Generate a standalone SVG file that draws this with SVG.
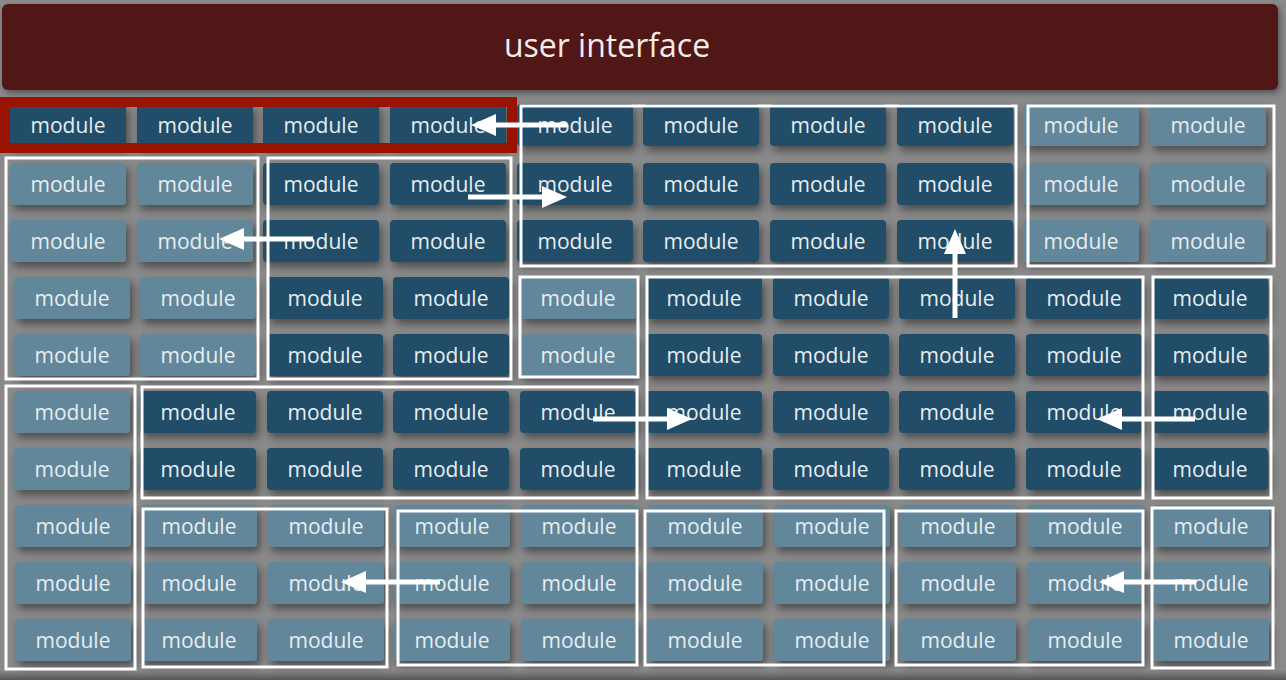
<svg xmlns="http://www.w3.org/2000/svg" width="1286" height="680" viewBox="0 0 1286 680">
<defs>
<style>
.d{fill:#204d69;filter:url(#sh)}
.l{fill:#62879b;filter:url(#sh)}
text{font-family:"Open Sans","Lato",sans-serif;font-size:21px;fill:#e6eef2;text-anchor:middle}
.box{fill:none;stroke:#ffffff;stroke-width:3}
.arr{stroke:#ffffff;stroke-width:5;fill:none;marker-end:url(#ah)}
</style>
<filter id="sh" x="-20%" y="-40%" width="150%" height="200%">
<feDropShadow dx="3" dy="5" stdDeviation="4" flood-color="#000" flood-opacity="0.45"/>
</filter>
<filter id="bsh" x="-5%" y="-20%" width="110%" height="160%">
<feDropShadow dx="2" dy="3" stdDeviation="3" flood-color="#000" flood-opacity="0.4"/>
</filter>
<marker id="ah" markerUnits="userSpaceOnUse" markerWidth="26" markerHeight="24" viewBox="0 -12 26 24" refX="0" refY="0" orient="auto">
<path d="M0,-11 L25,0 L0,11 z" fill="#ffffff"/>
</marker>
<linearGradient id="bot" x1="0" y1="0" x2="0" y2="1">
<stop offset="0" stop-color="#8a8a8a"/>
<stop offset="1" stop-color="#555555"/>
</linearGradient>
</defs>
<rect x="0" y="0" width="1286" height="680" fill="#8a8a8a"/>
<rect x="0" y="670" width="1286" height="10" fill="url(#bot)"/>
<g id="ui">
<rect x="2" y="4" width="1276" height="86" rx="6" fill="#511512" filter="url(#bsh)"/>
<text x="607" y="57" style="font-size:32px;fill:#f3ecea">user interface</text>
</g>
<g id="modules">
<g id="m1_1"><rect class="d" x="10" y="104" width="116" height="42" rx="4"/><text x="68" y="133">module</text></g>
<g id="m1_2"><rect class="d" x="137" y="104" width="116" height="42" rx="4"/><text x="195" y="133">module</text></g>
<g id="m1_3"><rect class="d" x="263" y="104" width="116" height="42" rx="4"/><text x="321" y="133">module</text></g>
<g id="m1_4"><rect class="d" x="390" y="104" width="116" height="42" rx="4"/><text x="448" y="133">module</text></g>
<g id="m1_5"><rect class="d" x="517" y="104" width="116" height="42" rx="4"/><text x="575" y="133">module</text></g>
<g id="m1_6"><rect class="d" x="643" y="104" width="116" height="42" rx="4"/><text x="701" y="133">module</text></g>
<g id="m1_7"><rect class="d" x="770" y="104" width="116" height="42" rx="4"/><text x="828" y="133">module</text></g>
<g id="m1_8"><rect class="d" x="897" y="104" width="116" height="42" rx="4"/><text x="955" y="133">module</text></g>
<g id="m1_9"><rect class="l" x="1023" y="104" width="116" height="42" rx="4"/><text x="1081" y="133">module</text></g>
<g id="m1_10"><rect class="l" x="1150" y="104" width="116" height="42" rx="4"/><text x="1208" y="133">module</text></g>

<g id="m2_1"><rect class="l" x="10" y="163" width="116" height="42" rx="4"/><text x="68" y="192">module</text></g>
<g id="m2_2"><rect class="l" x="137" y="163" width="116" height="42" rx="4"/><text x="195" y="192">module</text></g>
<g id="m2_3"><rect class="d" x="263" y="163" width="116" height="42" rx="4"/><text x="321" y="192">module</text></g>
<g id="m2_4"><rect class="d" x="390" y="163" width="116" height="42" rx="4"/><text x="448" y="192">module</text></g>
<g id="m2_5"><rect class="d" x="517" y="163" width="116" height="42" rx="4"/><text x="575" y="192">module</text></g>
<g id="m2_6"><rect class="d" x="643" y="163" width="116" height="42" rx="4"/><text x="701" y="192">module</text></g>
<g id="m2_7"><rect class="d" x="770" y="163" width="116" height="42" rx="4"/><text x="828" y="192">module</text></g>
<g id="m2_8"><rect class="d" x="897" y="163" width="116" height="42" rx="4"/><text x="955" y="192">module</text></g>
<g id="m2_9"><rect class="l" x="1023" y="163" width="116" height="42" rx="4"/><text x="1081" y="192">module</text></g>
<g id="m2_10"><rect class="l" x="1150" y="163" width="116" height="42" rx="4"/><text x="1208" y="192">module</text></g>

<g id="m3_1"><rect class="l" x="10" y="220" width="116" height="42" rx="4"/><text x="68" y="249">module</text></g>
<g id="m3_2"><rect class="l" x="137" y="220" width="116" height="42" rx="4"/><text x="195" y="249">module</text></g>
<g id="m3_3"><rect class="d" x="263" y="220" width="116" height="42" rx="4"/><text x="321" y="249">module</text></g>
<g id="m3_4"><rect class="d" x="390" y="220" width="116" height="42" rx="4"/><text x="448" y="249">module</text></g>
<g id="m3_5"><rect class="d" x="517" y="220" width="116" height="42" rx="4"/><text x="575" y="249">module</text></g>
<g id="m3_6"><rect class="d" x="643" y="220" width="116" height="42" rx="4"/><text x="701" y="249">module</text></g>
<g id="m3_7"><rect class="d" x="770" y="220" width="116" height="42" rx="4"/><text x="828" y="249">module</text></g>
<g id="m3_8"><rect class="d" x="897" y="220" width="116" height="42" rx="4"/><text x="955" y="249">module</text></g>
<g id="m3_9"><rect class="l" x="1023" y="220" width="116" height="42" rx="4"/><text x="1081" y="249">module</text></g>
<g id="m3_10"><rect class="l" x="1150" y="220" width="116" height="42" rx="4"/><text x="1208" y="249">module</text></g>

<g id="m4_1"><rect class="l" x="14" y="277" width="116" height="42" rx="4"/><text x="72" y="306">module</text></g>
<g id="m4_2"><rect class="l" x="140" y="277" width="116" height="42" rx="4"/><text x="198" y="306">module</text></g>
<g id="m4_3"><rect class="d" x="267" y="277" width="116" height="42" rx="4"/><text x="325" y="306">module</text></g>
<g id="m4_4"><rect class="d" x="393" y="277" width="116" height="42" rx="4"/><text x="451" y="306">module</text></g>
<g id="m4_5"><rect class="l" x="520" y="277" width="116" height="42" rx="4"/><text x="578" y="306">module</text></g>
<g id="m4_6"><rect class="d" x="646" y="277" width="116" height="42" rx="4"/><text x="704" y="306">module</text></g>
<g id="m4_7"><rect class="d" x="773" y="277" width="116" height="42" rx="4"/><text x="831" y="306">module</text></g>
<g id="m4_8"><rect class="d" x="899" y="277" width="116" height="42" rx="4"/><text x="957" y="306">module</text></g>
<g id="m4_9"><rect class="d" x="1026" y="277" width="116" height="42" rx="4"/><text x="1084" y="306">module</text></g>
<g id="m4_10"><rect class="d" x="1152" y="277" width="116" height="42" rx="4"/><text x="1210" y="306">module</text></g>

<g id="m5_1"><rect class="l" x="14" y="334" width="116" height="42" rx="4"/><text x="72" y="363">module</text></g>
<g id="m5_2"><rect class="l" x="140" y="334" width="116" height="42" rx="4"/><text x="198" y="363">module</text></g>
<g id="m5_3"><rect class="d" x="267" y="334" width="116" height="42" rx="4"/><text x="325" y="363">module</text></g>
<g id="m5_4"><rect class="d" x="393" y="334" width="116" height="42" rx="4"/><text x="451" y="363">module</text></g>
<g id="m5_5"><rect class="l" x="520" y="334" width="116" height="42" rx="4"/><text x="578" y="363">module</text></g>
<g id="m5_6"><rect class="d" x="646" y="334" width="116" height="42" rx="4"/><text x="704" y="363">module</text></g>
<g id="m5_7"><rect class="d" x="773" y="334" width="116" height="42" rx="4"/><text x="831" y="363">module</text></g>
<g id="m5_8"><rect class="d" x="899" y="334" width="116" height="42" rx="4"/><text x="957" y="363">module</text></g>
<g id="m5_9"><rect class="d" x="1026" y="334" width="116" height="42" rx="4"/><text x="1084" y="363">module</text></g>
<g id="m5_10"><rect class="d" x="1152" y="334" width="116" height="42" rx="4"/><text x="1210" y="363">module</text></g>

<g id="m6_1"><rect class="l" x="14" y="391" width="116" height="42" rx="4"/><text x="72" y="420">module</text></g>
<g id="m6_2"><rect class="d" x="140" y="391" width="116" height="42" rx="4"/><text x="198" y="420">module</text></g>
<g id="m6_3"><rect class="d" x="267" y="391" width="116" height="42" rx="4"/><text x="325" y="420">module</text></g>
<g id="m6_4"><rect class="d" x="393" y="391" width="116" height="42" rx="4"/><text x="451" y="420">module</text></g>
<g id="m6_5"><rect class="d" x="520" y="391" width="116" height="42" rx="4"/><text x="578" y="420">module</text></g>
<g id="m6_6"><rect class="d" x="646" y="391" width="116" height="42" rx="4"/><text x="704" y="420">module</text></g>
<g id="m6_7"><rect class="d" x="773" y="391" width="116" height="42" rx="4"/><text x="831" y="420">module</text></g>
<g id="m6_8"><rect class="d" x="899" y="391" width="116" height="42" rx="4"/><text x="957" y="420">module</text></g>
<g id="m6_9"><rect class="d" x="1026" y="391" width="116" height="42" rx="4"/><text x="1084" y="420">module</text></g>
<g id="m6_10"><rect class="d" x="1152" y="391" width="116" height="42" rx="4"/><text x="1210" y="420">module</text></g>

<g id="m7_1"><rect class="l" x="14" y="448" width="116" height="42" rx="4"/><text x="72" y="477">module</text></g>
<g id="m7_2"><rect class="d" x="140" y="448" width="116" height="42" rx="4"/><text x="198" y="477">module</text></g>
<g id="m7_3"><rect class="d" x="267" y="448" width="116" height="42" rx="4"/><text x="325" y="477">module</text></g>
<g id="m7_4"><rect class="d" x="393" y="448" width="116" height="42" rx="4"/><text x="451" y="477">module</text></g>
<g id="m7_5"><rect class="d" x="520" y="448" width="116" height="42" rx="4"/><text x="578" y="477">module</text></g>
<g id="m7_6"><rect class="d" x="646" y="448" width="116" height="42" rx="4"/><text x="704" y="477">module</text></g>
<g id="m7_7"><rect class="d" x="773" y="448" width="116" height="42" rx="4"/><text x="831" y="477">module</text></g>
<g id="m7_8"><rect class="d" x="899" y="448" width="116" height="42" rx="4"/><text x="957" y="477">module</text></g>
<g id="m7_9"><rect class="d" x="1026" y="448" width="116" height="42" rx="4"/><text x="1084" y="477">module</text></g>
<g id="m7_10"><rect class="d" x="1152" y="448" width="116" height="42" rx="4"/><text x="1210" y="477">module</text></g>

<g id="m8_1"><rect class="l" x="15" y="505" width="116" height="42" rx="4"/><text x="73" y="534">module</text></g>
<g id="m8_2"><rect class="l" x="141" y="505" width="116" height="42" rx="4"/><text x="199" y="534">module</text></g>
<g id="m8_3"><rect class="l" x="268" y="505" width="116" height="42" rx="4"/><text x="326" y="534">module</text></g>
<g id="m8_4"><rect class="l" x="394" y="505" width="116" height="42" rx="4"/><text x="452" y="534">module</text></g>
<g id="m8_5"><rect class="l" x="521" y="505" width="116" height="42" rx="4"/><text x="579" y="534">module</text></g>
<g id="m8_6"><rect class="l" x="647" y="505" width="116" height="42" rx="4"/><text x="705" y="534">module</text></g>
<g id="m8_7"><rect class="l" x="774" y="505" width="116" height="42" rx="4"/><text x="832" y="534">module</text></g>
<g id="m8_8"><rect class="l" x="900" y="505" width="116" height="42" rx="4"/><text x="958" y="534">module</text></g>
<g id="m8_9"><rect class="l" x="1027" y="505" width="116" height="42" rx="4"/><text x="1085" y="534">module</text></g>
<g id="m8_10"><rect class="l" x="1153" y="505" width="116" height="42" rx="4"/><text x="1211" y="534">module</text></g>

<g id="m9_1"><rect class="l" x="15" y="562" width="116" height="42" rx="4"/><text x="73" y="591">module</text></g>
<g id="m9_2"><rect class="l" x="141" y="562" width="116" height="42" rx="4"/><text x="199" y="591">module</text></g>
<g id="m9_3"><rect class="l" x="268" y="562" width="116" height="42" rx="4"/><text x="326" y="591">module</text></g>
<g id="m9_4"><rect class="l" x="394" y="562" width="116" height="42" rx="4"/><text x="452" y="591">module</text></g>
<g id="m9_5"><rect class="l" x="521" y="562" width="116" height="42" rx="4"/><text x="579" y="591">module</text></g>
<g id="m9_6"><rect class="l" x="647" y="562" width="116" height="42" rx="4"/><text x="705" y="591">module</text></g>
<g id="m9_7"><rect class="l" x="774" y="562" width="116" height="42" rx="4"/><text x="832" y="591">module</text></g>
<g id="m9_8"><rect class="l" x="900" y="562" width="116" height="42" rx="4"/><text x="958" y="591">module</text></g>
<g id="m9_9"><rect class="l" x="1027" y="562" width="116" height="42" rx="4"/><text x="1085" y="591">module</text></g>
<g id="m9_10"><rect class="l" x="1153" y="562" width="116" height="42" rx="4"/><text x="1211" y="591">module</text></g>

<g id="m10_1"><rect class="l" x="15" y="619" width="116" height="42" rx="4"/><text x="73" y="648">module</text></g>
<g id="m10_2"><rect class="l" x="141" y="619" width="116" height="42" rx="4"/><text x="199" y="648">module</text></g>
<g id="m10_3"><rect class="l" x="268" y="619" width="116" height="42" rx="4"/><text x="326" y="648">module</text></g>
<g id="m10_4"><rect class="l" x="394" y="619" width="116" height="42" rx="4"/><text x="452" y="648">module</text></g>
<g id="m10_5"><rect class="l" x="521" y="619" width="116" height="42" rx="4"/><text x="579" y="648">module</text></g>
<g id="m10_6"><rect class="l" x="647" y="619" width="116" height="42" rx="4"/><text x="705" y="648">module</text></g>
<g id="m10_7"><rect class="l" x="774" y="619" width="116" height="42" rx="4"/><text x="832" y="648">module</text></g>
<g id="m10_8"><rect class="l" x="900" y="619" width="116" height="42" rx="4"/><text x="958" y="648">module</text></g>
<g id="m10_9"><rect class="l" x="1027" y="619" width="116" height="42" rx="4"/><text x="1085" y="648">module</text></g>
<g id="m10_10"><rect class="l" x="1153" y="619" width="116" height="42" rx="4"/><text x="1211" y="648">module</text></g>
</g>
<g id="regions">
<rect x="5" y="102" width="507" height="46" fill="none" stroke="#9a1300" stroke-width="10"/>
<rect class="box" x="521" y="106" width="495" height="160"/>
<rect class="box" x="1028" y="106" width="246" height="160"/>
<rect class="box" x="6" y="158" width="252" height="221"/>
<rect class="box" x="268" y="158" width="243" height="221"/>
<rect class="box" x="520" y="277" width="118" height="100"/>
<rect class="box" x="647" y="277" width="496" height="221"/>
<rect class="box" x="1153" y="277" width="118" height="221"/>
<rect class="box" x="6" y="386" width="129" height="283"/>
<rect class="box" x="142" y="387" width="495" height="111"/>
<rect class="box" x="143" y="509" width="244" height="158"/>
<rect class="box" x="398" y="511" width="239" height="154"/>
<rect class="box" x="645" y="511" width="239" height="154"/>
<rect class="box" x="896" y="511" width="247" height="154"/>
<rect class="box" x="1152" y="508" width="121" height="160"/>
</g>
<g id="connectors">
<line class="arr" x1="567" y1="125" x2="496" y2="125"/>
<line class="arr" x1="468" y1="197" x2="542" y2="197"/>
<line class="arr" x1="313" y1="239" x2="244" y2="239"/>
<line class="arr" x1="955" y1="318" x2="955" y2="254"/>
<line class="arr" x1="593" y1="419" x2="667" y2="419"/>
<line class="arr" x1="1195" y1="419" x2="1122" y2="419"/>
<line class="arr" x1="440" y1="582" x2="366" y2="582"/>
<line class="arr" x1="1196" y1="582" x2="1124" y2="582"/>
</g>
</svg>
